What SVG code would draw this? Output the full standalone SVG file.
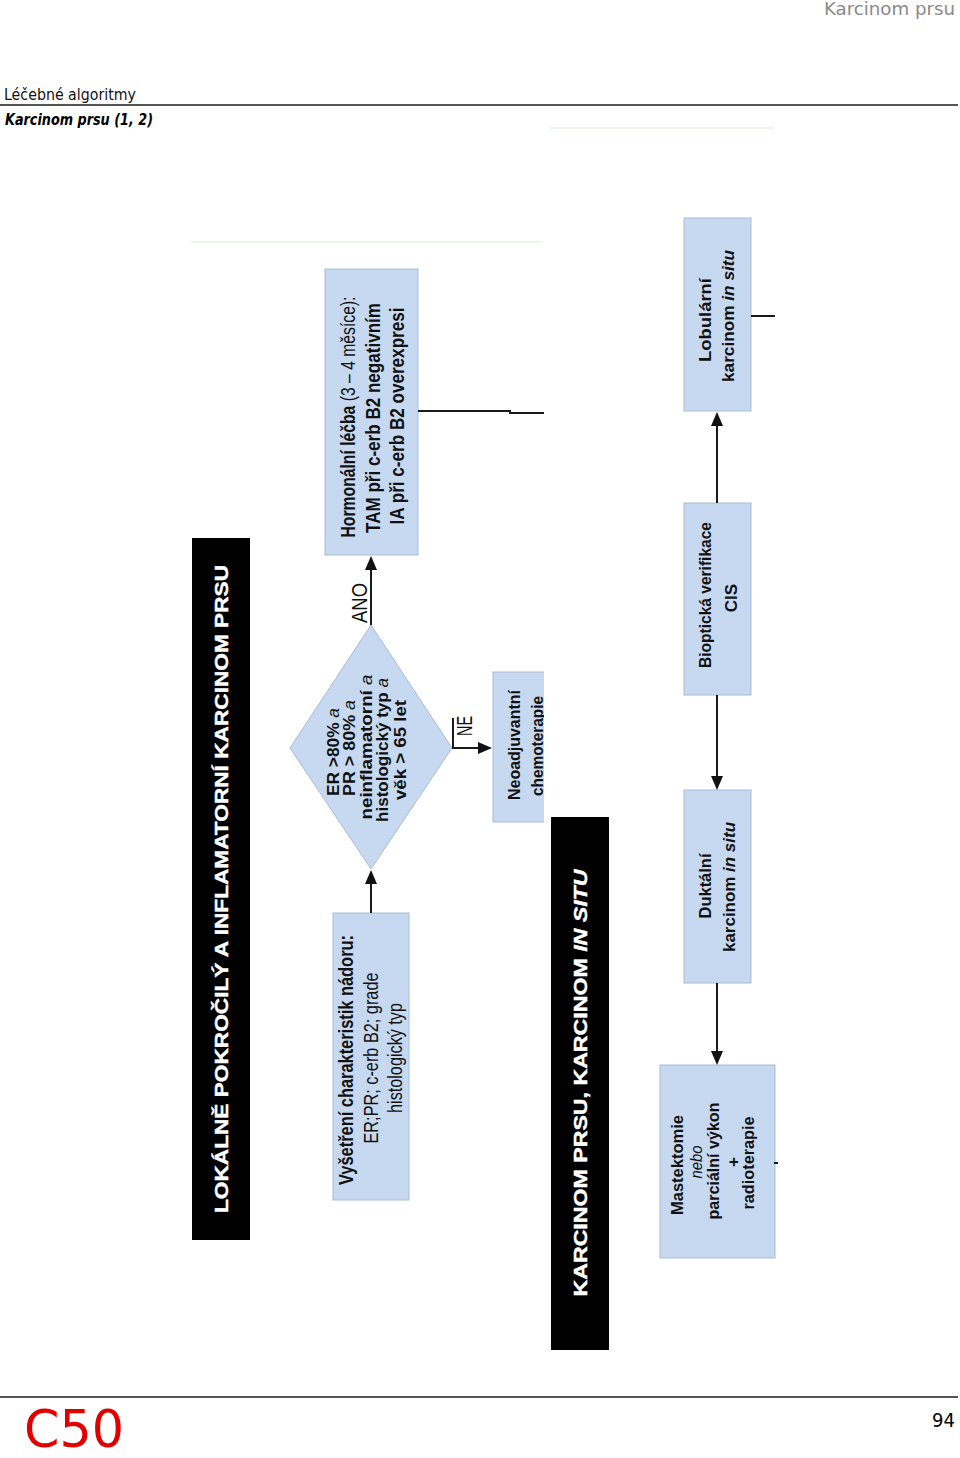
<svg xmlns="http://www.w3.org/2000/svg" width="960" height="1458" viewBox="0 0 960 1458">
<defs>
<style>
.box{fill:#c6d9f1;stroke:#a9bcd6;stroke-width:1}
.t{font-family:"Liberation Sans Narrow","Liberation Sans",Arial,sans-serif;fill:#111;text-anchor:middle}
.b{font-weight:bold}
.n{font-weight:normal}
.i{font-style:italic}
.bar{fill:#000}
.bt{font-family:"Liberation Sans",Arial,sans-serif;font-weight:bold;fill:#fff;stroke:#fff;stroke-width:0.4;font-size:18px;text-anchor:middle}
.conn{stroke:#1a1a1a;stroke-width:2;fill:none}
.faint{stroke:#d9edd9;stroke-width:1;fill:none}
.rule{stroke:#555;stroke-width:2}
.hdr{font-family:"DejaVu Sans Condensed","Liberation Sans Narrow","Liberation Sans",sans-serif}
</style>
<marker id="arr" viewBox="0 0 14 12" markerWidth="14" markerHeight="12" refX="12" refY="6" orient="auto" markerUnits="userSpaceOnUse">
<path d="M0,0 L14,6 L0,12 z" fill="#111"/>
</marker>
<clipPath id="clipR"><rect x="0" y="0" width="544" height="1458"/></clipPath>
</defs>

<g id="page">
<text class="hdr" x="955" y="15" font-size="18" fill="#8a8a8a" text-anchor="end" textLength="131" lengthAdjust="spacingAndGlyphs">Karcinom prsu</text>
<text class="hdr" x="4" y="100" font-size="15" fill="#111" textLength="132" lengthAdjust="spacingAndGlyphs">Léčebné algoritmy</text>
<line class="rule" x1="0" y1="105" x2="958" y2="105"/>
<text class="hdr" x="5" y="125" font-size="15" font-weight="bold" font-style="italic" fill="#000" textLength="148" lengthAdjust="spacingAndGlyphs">Karcinom prsu (1, 2)</text>
<line class="faint" x1="550" y1="128" x2="775" y2="128"/>
<line class="faint" x1="191" y1="242" x2="543" y2="242"/>
<line class="rule" x1="0" y1="1397" x2="958" y2="1397"/>
<text class="hdr" x="24" y="1447" font-size="52" fill="#e00000" textLength="100" lengthAdjust="spacingAndGlyphs">C50</text>
<text class="hdr" x="955" y="1427" font-size="20" fill="#000" text-anchor="end">94</text>
</g>

<g id="bar1">
<rect class="bar" x="192" y="538" width="58" height="702"/>
<text class="bt" x="228" y="889" transform="rotate(-90 228 889)" textLength="648" lengthAdjust="spacingAndGlyphs">LOKÁLNĚ POKROČILÝ A INFLAMATORNÍ KARCINOM PRSU</text>
</g>

<g id="bar2">
<rect class="bar" x="551" y="817" width="58" height="533"/>
<text class="bt" x="587" y="1083" transform="rotate(-90 587 1083)" textLength="427" lengthAdjust="spacingAndGlyphs">KARCINOM PRSU, KARCINOM <tspan font-style="italic">IN SITU</tspan></text>
</g>

<g id="hormonalni">
<rect class="box" x="325" y="269" width="93" height="286"/>
<text class="t b" font-size="20" x="355" y="417" transform="rotate(-90 355 417)" textLength="241" lengthAdjust="spacingAndGlyphs">Hormonální léčba <tspan class="n">(3 – 4 měsíce):</tspan></text>
<text class="t b" font-size="20" x="380" y="418" transform="rotate(-90 380 418)" textLength="230" lengthAdjust="spacingAndGlyphs">TAM při c-erb B2 negativním</text>
<text class="t b" font-size="20" x="404" y="416" transform="rotate(-90 404 416)" textLength="217" lengthAdjust="spacingAndGlyphs">IA při c-erb B2 overexpresi</text>
</g>

<g id="diamond">
<polygon class="box" points="371,625 452,748 371,869 290,748"/>
<text class="t b" font-size="17" x="339" y="752" transform="rotate(-90 339 752)" textLength="88" lengthAdjust="spacingAndGlyphs">ER &gt;80% <tspan class="n i">a</tspan></text>
<text class="t b" font-size="17" x="355" y="748" transform="rotate(-90 355 748)" textLength="96" lengthAdjust="spacingAndGlyphs">PR &gt; 80% <tspan class="n i">a</tspan></text>
<text class="t b" font-size="17" x="372" y="747" transform="rotate(-90 372 747)" textLength="145" lengthAdjust="spacingAndGlyphs">neinflamatorní <tspan class="n i">a</tspan></text>
<text class="t b" font-size="17" x="388" y="750" transform="rotate(-90 388 750)" textLength="144" lengthAdjust="spacingAndGlyphs">histologický typ <tspan class="n i">a</tspan></text>
<text class="t b" font-size="17" x="406" y="750" transform="rotate(-90 406 750)" textLength="100" lengthAdjust="spacingAndGlyphs">věk &gt; 65 let</text>
</g>

<g id="neoadjuvantni" clip-path="url(#clipR)">
<rect class="box" x="493" y="672" width="60" height="150"/>
<text class="t b" font-size="17" x="520" y="745" transform="rotate(-90 520 745)" textLength="110" lengthAdjust="spacingAndGlyphs">Neoadjuvantní</text>
<text class="t b" font-size="17" x="543" y="746" transform="rotate(-90 543 746)" textLength="100" lengthAdjust="spacingAndGlyphs">chemoterapie</text>
</g>

<g id="vysetreni">
<rect class="box" x="333" y="913" width="76" height="287"/>
<text class="t b" font-size="20" x="353" y="1060" transform="rotate(-90 353 1060)" textLength="250" lengthAdjust="spacingAndGlyphs">Vyšetření charakteristik nádoru:</text>
<text class="t" font-size="20" x="378" y="1058" transform="rotate(-90 378 1058)" textLength="171" lengthAdjust="spacingAndGlyphs">ER;PR; c-erb B2; grade</text>
<text class="t" font-size="20" x="402" y="1058" transform="rotate(-90 402 1058)" textLength="110" lengthAdjust="spacingAndGlyphs">histologický typ</text>
</g>

<g id="lobularni">
<rect class="box" x="684" y="218" width="67" height="193"/>
<text class="t b" font-size="17" x="711" y="320" transform="rotate(-90 711 320)" textLength="84" lengthAdjust="spacingAndGlyphs">Lobulární</text>
<text class="t b" font-size="17" x="734" y="316" transform="rotate(-90 734 316)" textLength="132" lengthAdjust="spacingAndGlyphs">karcinom <tspan class="i">in situ</tspan></text>
</g>

<g id="bioptická">
<rect class="box" x="684" y="503" width="67" height="192"/>
<text class="t b" font-size="17" x="711" y="595" transform="rotate(-90 711 595)" textLength="146" lengthAdjust="spacingAndGlyphs">Bioptická verifikace</text>
<text class="t b" font-size="17" x="737" y="598" transform="rotate(-90 737 598)">CIS</text>
</g>

<g id="duktalni">
<rect class="box" x="684" y="790" width="67" height="193"/>
<text class="t b" font-size="17" x="711" y="886" transform="rotate(-90 711 886)" textLength="65" lengthAdjust="spacingAndGlyphs">Duktální</text>
<text class="t b" font-size="17" x="735" y="887" transform="rotate(-90 735 887)" textLength="130" lengthAdjust="spacingAndGlyphs">karcinom <tspan class="i">in situ</tspan></text>
</g>

<g id="mastektomie">
<rect class="box" x="660" y="1065" width="115" height="193"/>
<text class="t b" font-size="17" x="683" y="1165" transform="rotate(-90 683 1165)" textLength="100" lengthAdjust="spacingAndGlyphs">Mastektomie</text>
<text class="t n i" font-size="16" x="702" y="1162" transform="rotate(-90 702 1162)" textLength="33" lengthAdjust="spacingAndGlyphs">nebo</text>
<text class="t b" font-size="17" x="719" y="1161" transform="rotate(-90 719 1161)" textLength="117" lengthAdjust="spacingAndGlyphs">parciální výkon</text>
<text class="t b" font-size="17" x="739" y="1162" transform="rotate(-90 739 1162)">+</text>
<text class="t b" font-size="17" x="754" y="1163" transform="rotate(-90 754 1163)" textLength="93" lengthAdjust="spacingAndGlyphs">radioterapie</text>
</g>

<g id="connectors">
<line class="conn" x1="371" y1="913" x2="371" y2="872" marker-end="url(#arr)"/>
<line class="conn" x1="371" y1="625" x2="371" y2="558" marker-end="url(#arr)"/>
<text class="t" font-size="22" x="367" y="603" transform="rotate(-90 367 603)" textLength="40" lengthAdjust="spacingAndGlyphs">ANO</text>
<line class="conn" x1="452" y1="748" x2="490" y2="748" marker-end="url(#arr)"/>
<line class="conn" x1="453" y1="718" x2="453" y2="748" stroke-width="1.5"/>
<text class="t" font-size="22" x="472" y="726" transform="rotate(-90 472 726)" textLength="20" lengthAdjust="spacingAndGlyphs">NE</text>
<polyline class="conn" points="418,411 510,411 510,413 544,413"/>
<line class="conn" x1="717" y1="503" x2="717" y2="414" marker-end="url(#arr)"/>
<line class="conn" x1="717" y1="695" x2="717" y2="788" marker-end="url(#arr)"/>
<line class="conn" x1="717" y1="983" x2="717" y2="1063" marker-end="url(#arr)"/>
<line class="conn" x1="751" y1="316" x2="775" y2="316"/>
<line class="conn" x1="774" y1="1163" x2="778" y2="1163" stroke-width="1"/>
</g>
</svg>
